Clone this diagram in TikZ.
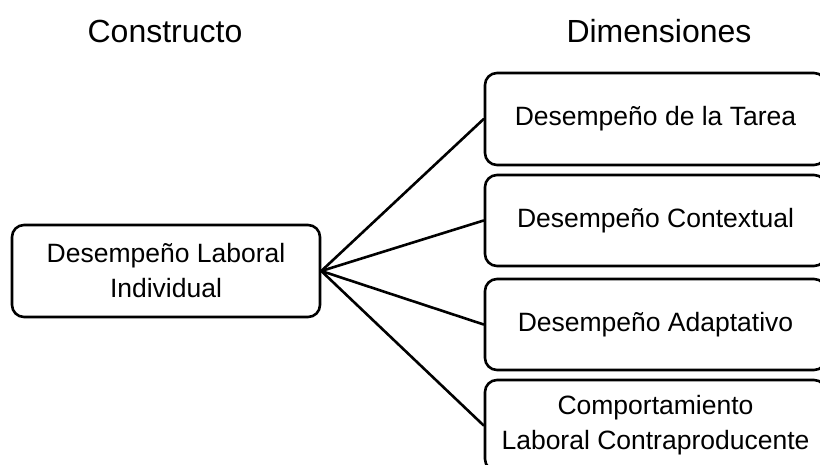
\documentclass[tikz,border=0pt]{standalone}
\usepackage{fontspec}
\setmainfont{Liberation Sans}
\begin{document}
\begin{tikzpicture}[x=1pt,y=-1pt,
  box/.style={draw=black,line width=2.6pt,rounded corners=12pt,inner sep=0pt,
    minimum height=91pt,align=center,font=\fontsize{26.5}{35}\selectfont},
  dimbox/.style={box,minimum width=341pt},
  head/.style={anchor=base,font=\fontsize{32}{38}\selectfont},
  link/.style={line width=2.6pt,line cap=round}]
\clip (0,0) rectangle (820,465);
\fill[white] (0,0) rectangle (820,465);
\node[head] (h1) at (165,43) {Constructo};
\node[head] (h2) at (659,43) {Dimensiones};
\node[box,minimum width=308pt,minimum height=92pt] (ind) at (166,271) {Desempeño Laboral\\Individual};
\node[dimbox,minimum height=92pt] (d1) at (655.5,119) {Desempeño de la Tarea};
\node[dimbox] (d2) at (655.5,220.5) {Desempeño Contextual};
\node[dimbox] (d3) at (655.5,324.5) {Desempeño Adaptativo};
\node[dimbox] (d4) at (655.5,425.5) {Comportamiento\\Laboral Contraproducente};
\foreach \d in {d1,d2,d3,d4} \draw[link] (ind.east) -- (\d.west);
\end{tikzpicture}
\end{document}
